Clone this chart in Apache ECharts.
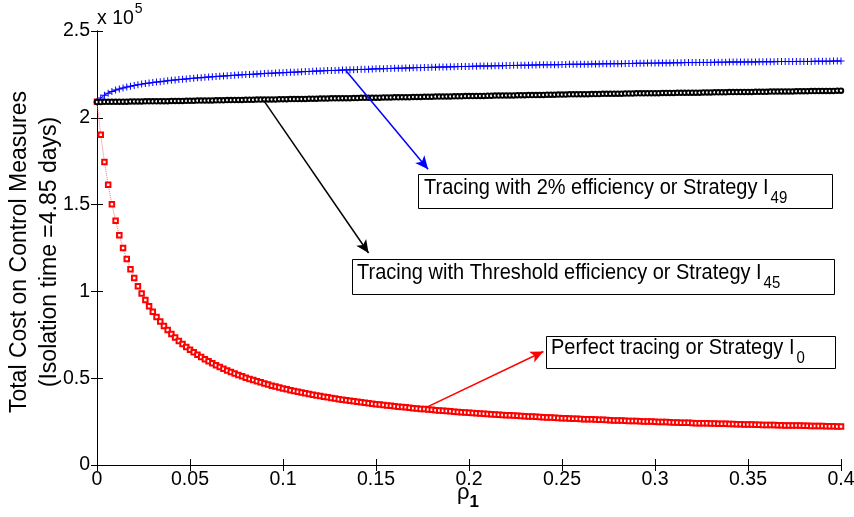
<!DOCTYPE html>
<html>
<head>
<meta charset="utf-8">
<script src="https://cdn.jsdelivr.net/npm/echarts@6/dist/echarts.min.js"></script>
<style>html,body{margin:0;background:#fff}#chart{width:854px;height:517px}</style>
</head>
<body>
<div id="chart"></div>
<script>
// rho_1 grid
const rho = [
  0,0.002,0.004,0.006,0.008,0.01,0.012,0.014,0.016,0.018,
  0.02,0.022,0.024,0.026,0.028,0.03,0.032,0.034,0.036,0.038,
  0.04,0.042,0.044,0.046,0.048,0.05,0.052,0.054,0.056,0.058,
  0.06,0.062,0.064,0.066,0.068,0.07,0.072,0.074,0.076,0.078,
  0.08,0.082,0.084,0.086,0.088,0.09,0.092,0.094,0.096,0.098,
  0.1,0.102,0.104,0.106,0.108,0.11,0.112,0.114,0.116,0.118,
  0.12,0.122,0.124,0.126,0.128,0.13,0.132,0.134,0.136,0.138,
  0.14,0.142,0.144,0.146,0.148,0.15,0.152,0.154,0.156,0.158,
  0.16,0.162,0.164,0.166,0.168,0.17,0.172,0.174,0.176,0.178,
  0.18,0.182,0.184,0.186,0.188,0.19,0.192,0.194,0.196,0.198,
  0.2,0.202,0.204,0.206,0.208,0.21,0.212,0.214,0.216,0.218,
  0.22,0.222,0.224,0.226,0.228,0.23,0.232,0.234,0.236,0.238,
  0.24,0.242,0.244,0.246,0.248,0.25,0.252,0.254,0.256,0.258,
  0.26,0.262,0.264,0.266,0.268,0.27,0.272,0.274,0.276,0.278,
  0.28,0.282,0.284,0.286,0.288,0.29,0.292,0.294,0.296,0.298,
  0.3,0.302,0.304,0.306,0.308,0.31,0.312,0.314,0.316,0.318,
  0.32,0.322,0.324,0.326,0.328,0.33,0.332,0.334,0.336,0.338,
  0.34,0.342,0.344,0.346,0.348,0.35,0.352,0.354,0.356,0.358,
  0.36,0.362,0.364,0.366,0.368,0.37,0.372,0.374,0.376,0.378,
  0.38,0.382,0.384,0.386,0.388,0.39,0.392,0.394,0.396,0.398,
  0.4
]
// total cost, units of 1e5
const perfect = [
  2.092,1.902,1.745,1.614,1.502,1.407,1.323,1.250,1.186,1.128,
  1.077,1.030,0.988,0.950,0.915,0.883,0.853,0.826,0.800,0.777,
  0.755,0.734,0.715,0.697,0.680,0.664,0.649,0.635,0.622,0.609,
  0.597,0.586,0.575,0.564,0.554,0.545,0.536,0.527,0.519,0.511,
  0.503,0.496,0.489,0.482,0.476,0.469,0.463,0.457,0.452,0.446,
  0.441,0.436,0.431,0.426,0.422,0.417,0.413,0.409,0.405,0.401,
  0.397,0.393,0.390,0.386,0.383,0.379,0.376,0.373,0.370,0.367,
  0.364,0.361,0.358,0.356,0.353,0.350,0.348,0.345,0.343,0.341,
  0.338,0.336,0.334,0.332,0.330,0.327,0.325,0.323,0.322,0.320,
  0.318,0.316,0.314,0.312,0.311,0.309,0.307,0.306,0.304,0.303,
  0.301,0.300,0.298,0.297,0.295,0.294,0.292,0.291,0.290,0.288,
  0.287,0.286,0.285,0.283,0.282,0.281,0.280,0.279,0.278,0.276,
  0.275,0.274,0.273,0.272,0.271,0.270,0.269,0.268,0.267,0.266,
  0.265,0.264,0.263,0.263,0.262,0.261,0.260,0.259,0.258,0.257,
  0.257,0.256,0.255,0.254,0.253,0.253,0.252,0.251,0.250,0.250,
  0.249,0.248,0.248,0.247,0.246,0.245,0.245,0.244,0.243,0.243,
  0.242,0.241,0.241,0.240,0.240,0.239,0.239,0.238,0.237,0.237,
  0.236,0.236,0.235,0.235,0.234,0.233,0.233,0.232,0.232,0.231,
  0.231,0.230,0.230,0.229,0.229,0.228,0.228,0.227,0.227,0.227,
  0.226,0.226,0.225,0.225,0.224,0.224,0.223,0.223,0.223,0.222,
  0.222
]
const twoPct = [
  2.091,2.114,2.130,2.142,2.152,2.160,2.166,2.172,2.177,2.182,
  2.186,2.190,2.194,2.197,2.200,2.203,2.206,2.208,2.211,2.213,
  2.216,2.218,2.220,2.222,2.224,2.226,2.228,2.230,2.231,2.233,
  2.235,2.236,2.238,2.239,2.241,2.242,2.244,2.245,2.246,2.248,
  2.249,2.250,2.251,2.252,2.254,2.255,2.256,2.257,2.258,2.259,
  2.260,2.261,2.262,2.263,2.264,2.265,2.266,2.267,2.268,2.269,
  2.270,2.271,2.272,2.273,2.273,2.274,2.275,2.276,2.277,2.277,
  2.278,2.279,2.279,2.280,2.281,2.282,2.282,2.283,2.284,2.284,
  2.285,2.286,2.286,2.287,2.287,2.288,2.289,2.289,2.290,2.290,
  2.291,2.291,2.292,2.293,2.293,2.294,2.294,2.295,2.295,2.296,
  2.296,2.297,2.297,2.298,2.298,2.299,2.299,2.300,2.300,2.300,
  2.301,2.301,2.302,2.302,2.303,2.303,2.303,2.304,2.304,2.305,
  2.305,2.305,2.306,2.306,2.306,2.307,2.307,2.308,2.308,2.308,
  2.309,2.309,2.309,2.310,2.310,2.310,2.311,2.311,2.311,2.312,
  2.312,2.312,2.313,2.313,2.313,2.314,2.314,2.314,2.315,2.315,
  2.315,2.316,2.316,2.316,2.316,2.317,2.317,2.317,2.318,2.318,
  2.318,2.318,2.319,2.319,2.319,2.319,2.320,2.320,2.320,2.320,
  2.321,2.321,2.321,2.321,2.322,2.322,2.322,2.322,2.323,2.323,
  2.323,2.323,2.323,2.324,2.324,2.324,2.324,2.324,2.325,2.325,
  2.325,2.325,2.325,2.326,2.326,2.326,2.326,2.326,2.327,2.327,
  2.327
]
const threshold = [
  2.091,2.091,2.092,2.092,2.092,2.092,2.093,2.093,2.093,2.094,
  2.094,2.094,2.094,2.095,2.095,2.095,2.095,2.096,2.096,2.096,
  2.097,2.097,2.097,2.097,2.098,2.098,2.098,2.099,2.099,2.099,
  2.100,2.100,2.101,2.101,2.101,2.102,2.102,2.102,2.103,2.103,
  2.104,2.104,2.104,2.105,2.105,2.105,2.106,2.106,2.106,2.107,
  2.107,2.107,2.108,2.108,2.108,2.109,2.109,2.110,2.110,2.110,
  2.111,2.111,2.111,2.112,2.112,2.112,2.113,2.113,2.113,2.114,
  2.114,2.115,2.115,2.115,2.116,2.116,2.116,2.117,2.117,2.117,
  2.118,2.118,2.119,2.119,2.119,2.120,2.120,2.120,2.121,2.121,
  2.121,2.122,2.122,2.122,2.123,2.123,2.124,2.124,2.124,2.125,
  2.125,2.125,2.126,2.126,2.126,2.127,2.127,2.128,2.128,2.128,
  2.129,2.129,2.129,2.130,2.130,2.130,2.131,2.131,2.131,2.132,
  2.132,2.133,2.133,2.133,2.134,2.134,2.134,2.135,2.135,2.135,
  2.136,2.136,2.136,2.137,2.137,2.137,2.138,2.138,2.138,2.139,
  2.139,2.139,2.140,2.140,2.140,2.141,2.141,2.141,2.141,2.142,
  2.142,2.142,2.143,2.143,2.143,2.143,2.144,2.144,2.144,2.145,
  2.145,2.145,2.145,2.146,2.146,2.146,2.147,2.147,2.147,2.147,
  2.148,2.148,2.148,2.148,2.149,2.149,2.149,2.150,2.150,2.150,
  2.150,2.151,2.151,2.151,2.152,2.152,2.152,2.152,2.153,2.153,
  2.153,2.153,2.154,2.154,2.154,2.155,2.155,2.155,2.155,2.156,
  2.156
]
// arrow annotations: [from, to] in data coords
const arrowTwoPct = [[0.134, 2.269], [0.178, 1.704]]
const arrowThreshold = [[0.0896, 2.100], [0.146, 1.221]]
const arrowPerfect = [[0.1765, 0.329], [0.240, 0.654]]

const FONT = '"Liberation Sans", Arial, Helvetica, sans-serif'
const pairs = ys => rho.map((x, i) => [x, ys[i]])
const arrow = (pts, color) => [{ coord: pts[0], lineStyle: { color } }, { coord: pts[1] }]
const plus = 'path://M0,4.3H10V5.7H0Z M4.3,0H5.7V10H4.3Z'

const axisCommon = {
  type: 'value', axisLine: { show: true, lineStyle: { color: '#000', width: 1 } },
  axisTick: { show: true, inside: true, length: 6, lineStyle: { color: '#000' } },
  splitLine: { show: false },
}
const boxText = (x, y, main, sub) => ({
  type: 'text', z: 51, x, y, scaleY: 1.08, originY: 0,
  style: { text: `{m|${main}}{s|${sub}}`, verticalAlign: 'middle', fill: '#000',
    rich: { m: { fontSize: 20, fontFamily: FONT }, s: { fontSize: 15, fontFamily: FONT, padding: [20, 0, 0, 2] } } },
})
const box = (x, y, w, h) => ({ type: 'rect', z: 50, shape: { x, y, width: w, height: h }, style: { fill: '#fff', stroke: '#000', lineWidth: 1 } })

const chart = echarts.init(document.getElementById('chart'))
chart.setOption({
  animation: false, backgroundColor: '#fff',
  grid: { left: 97, right: 13, top: 31, bottom: 52, outerBoundsMode: 'none' },
  xAxis: [
    { ...axisCommon, position: 'bottom', min: 0, max: 0.4, interval: 0.05,
      axisLabel: { color: '#000', fontSize: 19.5, fontFamily: FONT, margin: 5 } },
    { ...axisCommon, position: 'top', min: 0, max: 0.4, interval: 0.05, axisLabel: { show: false } },
  ],
  yAxis: [
    { ...axisCommon, position: 'left', min: 0, max: 2.5, interval: 0.5,
      axisLabel: { color: '#000', fontSize: 19.5, fontFamily: FONT, margin: 7 } },
    { ...axisCommon, position: 'right', min: 0, max: 2.5, interval: 0.5, axisLabel: { show: false } },
  ],
  series: [
    { name: 'Perfect tracing', type: 'line', data: pairs(perfect), showAllSymbol: true,
      symbol: 'emptyRect', symbolSize: 4.5, itemStyle: { color: '#ff0000', borderWidth: 1.2 },
      lineStyle: { color: '#ff7070', width: 1, type: 'dotted' } },
    { name: '2% efficiency', type: 'line', data: pairs(twoPct), showAllSymbol: true,
      symbol: plus, symbolSize: 7, itemStyle: { color: '#0000ff' },
      lineStyle: { color: '#0000ff', width: 1 } },
    { name: 'Threshold efficiency', type: 'line', data: pairs(threshold), showAllSymbol: true,
      symbol: 'emptyCircle', symbolSize: 4.5, itemStyle: { color: '#000', borderWidth: 1.3 },
      lineStyle: { color: '#000', width: 1 },
      markLine: { silent: true, animation: false, symbol: ['none', 'arrow'], symbolSize: [9, 13],
        label: { show: false }, lineStyle: { width: 1.5, type: 'solid' },
        data: [arrow(arrowTwoPct, '#0000ff'), arrow(arrowThreshold, '#000'), arrow(arrowPerfect, '#ff0000')] } },
  ],
  graphic: [
    { type: 'text', x: 97, y: 19, style: { text: '{a|x 10}{b|5}', verticalAlign: 'middle', fill: '#000',
      rich: { a: { fontSize: 19.5, fontFamily: FONT }, b: { fontSize: 14, fontFamily: FONT, padding: [0, 0, 20, 1] } } } },
    { type: 'text', x: 35, y: 252, rotation: Math.PI / 2,
      style: { text: 'Total Cost on Control Measures\n(Isolation time =4.85 days)', align: 'center', verticalAlign: 'middle',
        fontSize: 23, lineHeight: 30, fontFamily: FONT, fill: '#000' } },
    { type: 'text', x: 457, y: 493, style: { text: '{r|ρ}{s|1}', verticalAlign: 'middle', fill: '#000',
      rich: { r: { fontSize: 22, fontFamily: FONT }, s: { fontSize: 17, fontWeight: 'bold', fontFamily: FONT, padding: [18, 0, 0, 0] } } } },
    box(418.5, 174.5, 414, 34),
    boxText(424, 188, 'Tracing with 2% efficiency or Strategy I', '49'),
    box(352.5, 259.5, 482, 35),
    boxText(357, 273, 'Tracing with Threshold efficiency or Strategy I', '45'),
    box(546.5, 336.5, 289, 32),
    boxText(551, 348, 'Perfect tracing or Strategy I', '0'),
  ],
})
</script>
</body>
</html>
